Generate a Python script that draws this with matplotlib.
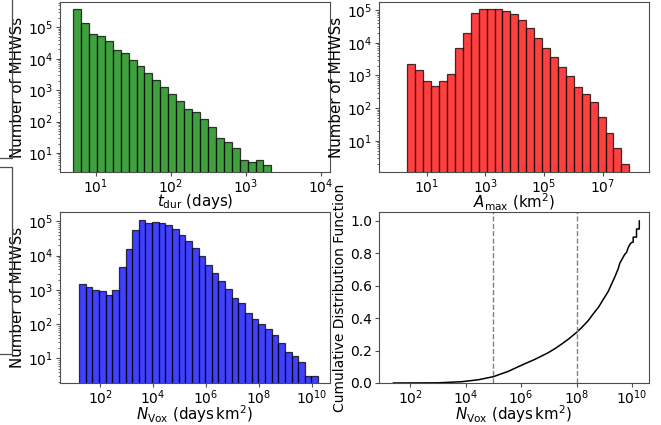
import numpy as np
import matplotlib
matplotlib.use('Agg')
import matplotlib.pyplot as plt
from matplotlib.lines import Line2D
from matplotlib.ticker import NullLocator, LogLocator

# ---------------- data ----------------
tdur_bin_range = (5.0, 2200.0)
tdur_counts = [375000, 134000, 64000, 53000, 36000, 19300, 15500, 9500, 5700,
               3600, 2100, 1300, 760, 460, 260, 200, 118, 67, 29, 23, 14, 6, 5, 6, 4]

amax_bin_range = (2.19, 8.1e7)
amax_counts = [2170, 1420, 700, 480, 670, 1130, 6700, 20000, 79000, 107000,
               107000, 108000, 93000, 74000, 48000, 27500, 13900, 7000, 3560,
               1840, 950, 460, 270, 150, 53, 18, 6, 2]

nvox_bin_range = (16.2, 1.7e10)
nvox_counts = [1450, 1180, 1030, 945, 735, 990, 4700, 15600, 57000, 112000,
               93000, 98000, 91000, 78000, 61000, 41000, 27000, 17000, 10000,
               5500, 3150, 1780, 1050, 600, 420, 210, 145, 100, 72, 49, 29, 15,
               12, 8, 3, 3]

cdf_log10_nvox = [1.40, 3.0, 3.86, 4.46, 5.0, 5.54, 6.02, 6.50, 6.98, 7.22,
                  7.46, 7.70, 8.0, 8.2, 8.42, 8.66, 8.78, 9.14, 9.38, 9.50,
                  9.56, 9.74, 9.80, 9.86, 9.92, 9.97, 10.04, 10.04, 10.16,
                  10.16, 10.26, 10.26]
cdf_frac = [0.0, 0.001, 0.008, 0.02, 0.039, 0.072, 0.110, 0.146, 0.187, 0.212,
            0.240, 0.270, 0.312, 0.345, 0.385, 0.440, 0.465, 0.565, 0.655,
            0.705, 0.740, 0.795, 0.805, 0.835, 0.855, 0.865, 0.87, 0.90, 0.90,
            0.95, 0.95, 1.0]
cdf_markers = [1e5, 1e8]

# ---------------- style ----------------
plt.rcParams['font.family'] = ['DejaVu Sans']
plt.rcParams['axes.edgecolor'] = '0.3'
plt.rcParams['xtick.color'] = '0.3'
plt.rcParams['ytick.color'] = '0.3'
plt.rcParams['xtick.labelcolor'] = 'black'
plt.rcParams['ytick.labelcolor'] = 'black'
plt.rcParams['xtick.major.size'] = 3
plt.rcParams['ytick.major.size'] = 3
plt.rcParams['ytick.minor.size'] = 1.8
plt.rcParams['xtick.major.pad'] = 1.0
plt.rcParams['ytick.major.pad'] = 2

W, H = 661, 425
fig = plt.figure(figsize=(W / 100, H / 100), dpi=100)


def ax_px(x0, y0, x1, y1):
    return fig.add_axes([x0 / W, 1 - y1 / H, (x1 - x0) / W, (y1 - y0) / H])


ax1 = ax_px(60, 2, 330, 172)
ax2 = ax_px(379, 2, 649, 172)
ax3 = ax_px(60, 212, 330, 383)
ax4 = ax_px(379, 212, 649, 383)

FS = 10.8
TFS = 10
XPAD = -3
YPAD = 2


def loghist(ax, rng, counts, color):
    edges = np.logspace(np.log10(rng[0]), np.log10(rng[1]), len(counts) + 1)
    centers = np.sqrt(edges[:-1] * edges[1:])
    ax.hist(centers, bins=edges, weights=counts, color=color, alpha=0.75,
            edgecolor='black', linewidth=0.9)
    ax.set_xscale('log')
    ax.set_yscale('log')
    ax.yaxis.set_major_locator(LogLocator(base=10, numticks=10))
    ax.yaxis.set_minor_locator(LogLocator(base=10, subs=np.arange(2, 10), numticks=12))
    ax.tick_params(labelsize=TFS)
    ax.set_ylabel('Number of MHWSs', fontsize=FS, labelpad=YPAD)


loghist(ax1, tdur_bin_range, tdur_counts, 'green')
ax1.set_xlim(10 ** 0.524, 10 ** 4.124)
ax1.set_ylim(10 ** 0.394, 10 ** 5.81)
ax1.set_xticks([1e1, 1e2, 1e3, 1e4])
ax1.xaxis.set_minor_locator(NullLocator())
ax1.set_xlabel(r'$t_{\rm dur}$ (days)', fontsize=FS, labelpad=XPAD)

loghist(ax2, amax_bin_range, amax_counts, 'red')
ax2.set_xlim(10 ** -0.626, 10 ** 8.58)
ax2.set_ylim(10 ** 0.05, 10 ** 5.245)
ax2.set_xticks([1e1, 1e3, 1e5, 1e7])
ax2.xaxis.set_minor_locator(NullLocator())
ax2.set_xlabel(r'$A_{\rm max}$ (km$^2$)', fontsize=FS, labelpad=XPAD)

loghist(ax3, nvox_bin_range, nvox_counts, 'blue')
ax3.set_xlim(10 ** 0.49, 10 ** 10.68)
ax3.set_ylim(10 ** 0.284, 10 ** 5.275)
ax3.set_xticks([1e2, 1e4, 1e6, 1e8, 1e10])
ax3.xaxis.set_minor_locator(NullLocator())
ax3.set_xlabel(r'$N_{\rm Vox}$ (days$\,$km$^2$)', fontsize=FS, labelpad=XPAD)

ax4.plot(10 ** np.array(cdf_log10_nvox), cdf_frac, color='black', lw=1.1)
for m in cdf_markers:
    ax4.axvline(m, color='0.5', ls='--', lw=1.0)
ax4.set_xscale('log')
ax4.set_xlim(10 ** 0.88, 10 ** 10.61)
ax4.set_ylim(0, 1.055)
ax4.set_xticks([1e2, 1e4, 1e6, 1e8, 1e10])
ax4.xaxis.set_minor_locator(NullLocator())
ax4.set_yticks([0.0, 0.2, 0.4, 0.6, 0.8, 1.0])
ax4.tick_params(labelsize=TFS)
ax4.set_xlabel(r'$N_{\rm Vox}$ (days$\,$km$^2$)', fontsize=FS, labelpad=XPAD)
ax4.set_ylabel('Cumulative Distribution Function', fontsize=10, labelpad=YPAD)

# partial frames visible at the left edge (cropped neighbouring panels)
def fline(xs, ys):
    fig.add_artist(Line2D([x / W for x in xs], [1 - y / H for y in ys],
                          color='0.3', lw=0.9))

fline([12, 12, 0], [0, 157.5, 157.5])
fline([0, 12, 12, 0], [167, 167, 354, 354])

fig.savefig('out.png', dpi=100)
